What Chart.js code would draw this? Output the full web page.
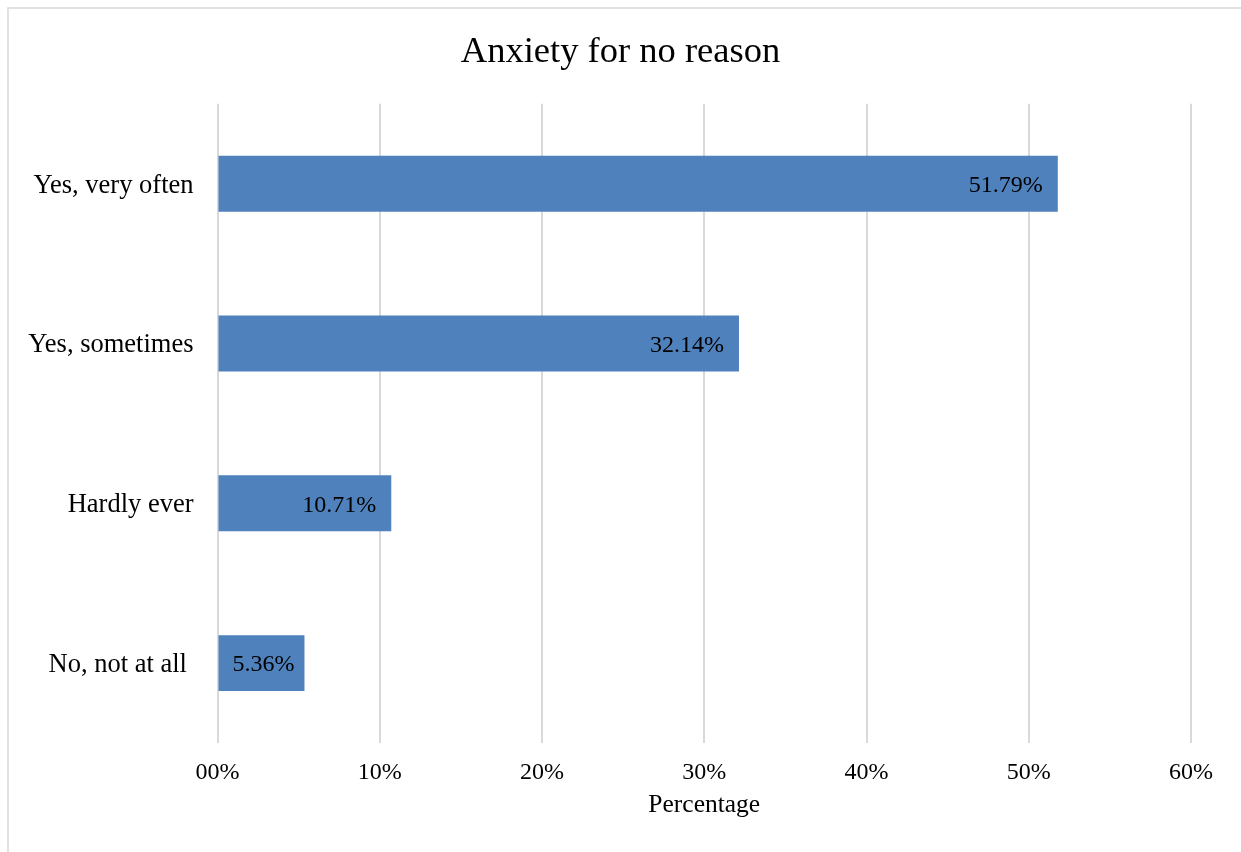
<!DOCTYPE html>
<html>
<head>
<meta charset="utf-8">
<title>Anxiety for no reason</title>
<script src="https://cdn.jsdelivr.net/npm/chart.js@4/dist/chart.umd.min.js"></script>
<style>
  html, body { margin: 0; padding: 0; background: #ffffff; }
  #wrap { width: 1241px; height: 852px; position: relative; }
</style>
</head>
<body>
<div id="wrap"><canvas id="chart" width="1241" height="852"></canvas></div>
<script>
// Survey answers and their shares (%)
const categories = ['Yes, very often', 'Yes, sometimes', 'Hardly ever', 'No, not at all '];
const values = [51.79, 32.14, 10.71, 5.36];
const tickLabels = ['00%', '10%', '20%', '30%', '40%', '50%', '60%'];

const SERIF = "'Liberation Serif', 'Times New Roman', serif";
const BAR_COLOR = '#4f81bd';
const GRID_COLOR = '#d9d9d9';

// Light frame around the whole chart
const framePlugin = {
  id: 'frame',
  beforeDraw(chart) {
    const ctx = chart.ctx;
    ctx.save();
    ctx.fillStyle = '#ffffff';
    ctx.fillRect(0, 0, chart.width, chart.height);
    ctx.strokeStyle = GRID_COLOR;
    ctx.lineWidth = 1.5;
    ctx.strokeRect(8, 8, chart.width + 50, chart.height + 50);
    ctx.restore();
  }
};

// Value labels placed inside the end of each bar
const valueLabelPlugin = {
  id: 'valueLabels',
  afterDatasetsDraw(chart) {
    const ctx = chart.ctx;
    const meta = chart.getDatasetMeta(0);
    ctx.save();
    ctx.font = '24px ' + SERIF;
    ctx.fillStyle = '#000000';
    ctx.textBaseline = 'middle';
    meta.data.forEach((bar, i) => {
      const text = values[i].toFixed(2) + '%';
      const w = ctx.measureText(text).width;
      const start = bar.base;
      const end = bar.x;
      let x;
      if (end - start < w + 30) {
        ctx.textAlign = 'center';
        x = (start + end) / 2 + 2;
      } else {
        ctx.textAlign = 'right';
        x = end - 15;
      }
      ctx.fillText(text, x, bar.y + 2);
    });
    ctx.restore();
  }
};

new Chart(document.getElementById('chart'), {
  type: 'bar',
  data: {
    labels: categories,
    datasets: [{
      data: values,
      backgroundColor: BAR_COLOR,
      borderWidth: 0,
      barPercentage: 0.35,
      categoryPercentage: 1.0
    }]
  },
  options: {
    indexAxis: 'y',
    responsive: false,
    animation: false,
    devicePixelRatio: 1,
    layout: { padding: 0 },
    plugins: {
      legend: { display: false },
      tooltip: { enabled: false },
      title: {
        display: true,
        text: 'Anxiety for no reason',
        color: '#000000',
        font: { family: SERIF, size: 36.5, weight: 'normal', lineHeight: 1.2 },
        padding: { top: 31, bottom: 29 }
      }
    },
    scales: {
      x: {
        min: 0,
        max: 60,
        afterBuildTicks(scale) {
          scale.ticks = tickLabels.map((_, i) => ({ value: i * 10 }));
        },
        ticks: {
          color: '#000000',
          font: { family: SERIF, size: 24, lineHeight: 1.2 },
          padding: 15,
          maxRotation: 0,
          callback: (v, i) => tickLabels[i]
        },
        grid: { color: GRID_COLOR, lineWidth: 2, drawTicks: false },
        border: { display: false },
        title: {
          display: true,
          text: 'Percentage',
          color: '#000000',
          font: { family: SERIF, size: 25.5, lineHeight: 1.2 },
          padding: { top: 0, bottom: 31 }
        },
        afterFit(scale) { scale.height = 109; }
      },
      y: {
        ticks: {
          color: '#000000',
          font: { family: SERIF, size: 26.5, lineHeight: 1.2 },
          padding: 24,
          labelOffset: 2
        },
        grid: { display: false, drawTicks: false },
        border: { display: false },
        afterFit(scale) { scale.width = 217.5; }
      },
      // empty margin on the right so the plot ends at 60% while the title stays centred on the page
      rightMargin: {
        type: 'linear',
        position: 'right',
        axis: 'y',
        display: true,
        ticks: { display: false },
        grid: { display: false, drawTicks: false },
        border: { display: false },
        afterFit(scale) { scale.width = 50; }
      }
    }
  },
  plugins: [framePlugin, valueLabelPlugin]
});
</script>
</body>
</html>
